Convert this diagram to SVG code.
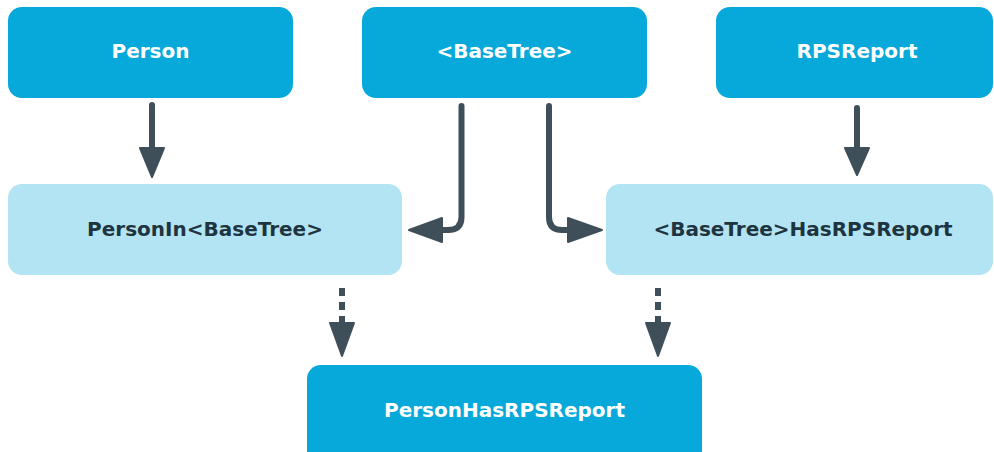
<svg xmlns="http://www.w3.org/2000/svg" width="994" height="452" viewBox="0 0 994 452">
<defs>
<style>
.dk{fill:#06a9da}
.lt{fill:#b3e4f3}
.tw{fill:#ffffff;font-family:"DejaVu Sans",Verdana,sans-serif;font-weight:bold;font-size:20px;text-anchor:middle}
.td{fill:#1e3440;font-family:"DejaVu Sans",Verdana,sans-serif;font-weight:bold;font-size:20px;text-anchor:middle}
.ln{fill:none;stroke:#3f4f5a;stroke-width:6;stroke-linecap:round;stroke-linejoin:round}
.ds{stroke-dasharray:8 6;stroke-linecap:butt}
.ah{fill:#3f4f5a;stroke:#3f4f5a;stroke-width:2;stroke-linejoin:round}
</style>
</defs>
<rect width="994" height="452" fill="#ffffff"/>
<g id="person"><rect class="dk" x="8" y="7" width="285" height="91" rx="14"/><text class="tw" x="150.5" y="58">Person</text></g>
<g id="basetree"><rect class="dk" x="362" y="7" width="285" height="91" rx="14"/><text class="tw" x="504.5" y="58">&lt;BaseTree&gt;</text></g>
<g id="rpsreport"><rect class="dk" x="716" y="7" width="277" height="91" rx="14"/><text class="tw" x="857" y="58">RPSReport</text></g>
<g id="personinbasetree"><rect class="lt" x="8" y="184" width="394" height="91" rx="14"/><text class="td" x="205" y="236">PersonIn&lt;BaseTree&gt;</text></g>
<g id="basetreehasrpsreport"><rect class="lt" x="606" y="184" width="387" height="91" rx="14"/><text class="td" x="803" y="236">&lt;BaseTree&gt;HasRPSReport</text></g>
<g id="personhasrpsreport"><rect class="dk" x="307" y="365" width="395" height="100" rx="14"/><text class="tw" x="504.5" y="417">PersonHasRPSReport</text></g>
<g id="connectors">
<path class="ln" d="M152 105 V150"/><polygon class="ah" points="140,148 164,148 152,177"/>
<path class="ln" d="M857 108 V150"/><polygon class="ah" points="845,148 869,148 857,175"/>
<path class="ln" d="M461.5 106 V217 Q461.5 230 448 230 H440"/><polygon class="ah" points="442,218 442,242 409,230"/>
<path class="ln" d="M549 106 V217 Q549 230 562 230 H570"/><polygon class="ah" points="568,218 568,242 602,230"/>
<path class="ln ds" d="M342 288 V325"/><polygon class="ah" points="330,323 354,323 342,356"/>
<path class="ln ds" d="M658 288 V325"/><polygon class="ah" points="646,323 670,323 658,356"/>
</g>
</svg>
